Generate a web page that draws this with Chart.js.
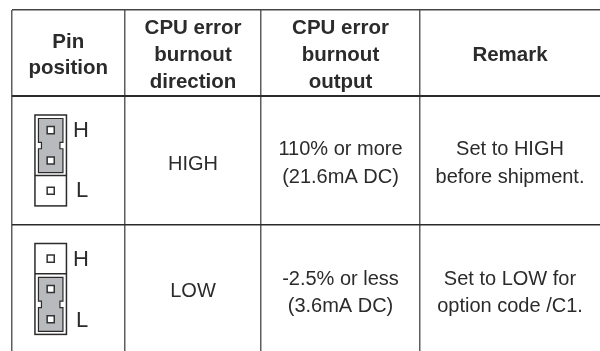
<!DOCTYPE html>
<html>
<head>
<meta charset="utf-8">
<title>CPU error burnout</title>
<script src="https://cdn.jsdelivr.net/npm/chart.js@4"></script>
<style>
    html, body { margin: 0; padding: 0; background: #fff; }
    canvas { display: block; }
</style>
</head>
<body>
<canvas id="chartTable" width="600" height="351"></canvas>
<script>
// table content
const headers = [
    ['Pin', 'position'],
    ['CPU error', 'burnout', 'direction'],
    ['CPU error', 'burnout', 'output'],
    ['Remark']
];
const pinNames = ['H', 'L'];
const shuntedPin = [0, 1];       // first pin covered by the jumper on each row
const directions = ['HIGH', 'LOW'];
const outputs = [['110% or more', '(21.6mA DC)'], ['-2.5% or less', '(3.6mA DC)']];
const remarks = [['Set to HIGH', 'before shipment.'], ['Set to LOW for', 'option code /C1.']];

// layout, in scale units (scales are 1:1 with the canvas)
const colEdges = [11.5, 125, 261, 420, 600];
const rowEdges = [10, 96, 224.5, 351];
const housingTop = [115, 243.5];
const pinX = 50.7;
const pitch = 30.3;
const housingW = 31.5;

const TEXT = '#2b2b2b';
const FONT = '"Liberation Sans", Arial, sans-serif';

function pinY(row, i) {
    return housingTop[row] + pitch * (i + 0.5);
}

const pinPoints = [];
housingTop.forEach(function(top, row) {
    [0, 1, 2].forEach(function(i) {
        pinPoints.push({ x: pinX, y: pinY(row, i) });
    });
});

function drawLines(ctx, lines, x, yMid, lineH) {
    lines.forEach(function(line, i) {
        ctx.fillText(line, x, yMid + (i - (lines.length - 1) / 2) * lineH);
    });
}

function drawJumper(ctx, sx, sy, row) {
    const l = sx.getPixelForValue(pinX - housingW / 2);
    const r = sx.getPixelForValue(pinX + housingW / 2);
    const t = sy.getPixelForValue(housingTop[row]);
    const b = sy.getPixelForValue(housingTop[row] + pitch * 3);

    ctx.strokeStyle = '#2b2b2b';
    ctx.lineWidth = 1.5;
    ctx.fillStyle = '#fff';
    ctx.fillRect(l, t, r - l, b - t);
    ctx.strokeRect(l, t, r - l, b - t);

    // the shunted two pins get a heavier box with the grey jumper inside
    const first = shuntedPin[row];
    const st = t + pitch * first;
    const sb = st + pitch * 2;
    ctx.beginPath();
    ctx.moveTo(l, first ? st : sb);
    ctx.lineTo(r, first ? st : sb);
    ctx.stroke();

    const jl = l + 3.5, jr = r - 3.5, jt = st + 3.5, jb = sb - 3;
    const mid = (jt + jb) / 2, n = 3.2, nw = 3;
    ctx.beginPath();
    ctx.moveTo(jl, jt);
    ctx.lineTo(jr, jt);
    ctx.lineTo(jr, mid - n);
    ctx.lineTo(jr - nw, mid - n);
    ctx.lineTo(jr - nw, mid + n);
    ctx.lineTo(jr, mid + n);
    ctx.lineTo(jr, jb);
    ctx.lineTo(jl, jb);
    ctx.lineTo(jl, mid + n);
    ctx.lineTo(jl + nw, mid + n);
    ctx.lineTo(jl + nw, mid - n);
    ctx.lineTo(jl, mid - n);
    ctx.closePath();
    ctx.fillStyle = '#b9babd';
    ctx.fill();
    ctx.lineWidth = 1.2;
    ctx.stroke();
}

const tablePlugin = {
    id: 'tablePlugin',
    beforeDatasetsDraw: function(chart) {
        const ctx = chart.ctx;
        const sx = chart.scales.x;
        const sy = chart.scales.y;
        ctx.save();
        housingTop.forEach(function(top, row) {
            drawJumper(ctx, sx, sy, row);
        });
        ctx.restore();
    },
    afterDatasetsDraw: function(chart) {
        const ctx = chart.ctx;
        const sx = chart.scales.x;
        const sy = chart.scales.y;
        const colMid = function(c) {
            return sx.getPixelForValue((colEdges[c] + colEdges[c + 1]) / 2);
        };

        ctx.save();
        ctx.fillStyle = TEXT;
        ctx.textAlign = 'center';
        ctx.textBaseline = 'middle';

        ctx.font = 'bold 20.5px ' + FONT;
        headers.forEach(function(lines, c) {
            drawLines(ctx, lines, colMid(c), sy.getPixelForValue(55.5), lines.length === 2 ? 26 : 27);
        });

        ctx.font = '20px ' + FONT;
        // last row is cut off by the page, its text sits above the geometric middle
        const wordY = [sy.getPixelForValue(164), sy.getPixelForValue(291)];
        const textY = [sy.getPixelForValue(163.5), sy.getPixelForValue(293)];
        directions.forEach(function(text, r) {
            ctx.fillText(text, colMid(1), wordY[r]);
        });
        outputs.forEach(function(lines, r) {
            drawLines(ctx, lines, colMid(2), textY[r], 27.5);
        });
        remarks.forEach(function(lines, r) {
            drawLines(ctx, lines, colMid(3), textY[r], 27.5);
        });

        ctx.font = '22px ' + FONT;
        ctx.textAlign = 'left';
        housingTop.forEach(function(top, row) {
            ctx.fillText(pinNames[0], sx.getPixelForValue(73), sy.getPixelForValue(pinY(row, 0)) + 1);
            ctx.fillText(pinNames[1], sx.getPixelForValue(76), sy.getPixelForValue(pinY(row, 2)) + (row ? 1.5 : 0));
        });
        ctx.restore();
    }
};

new Chart(document.getElementById('chartTable'), {
    type: 'scatter',
    data: {
        datasets: [{
            data: pinPoints,
            pointStyle: 'rect',
            pointRadius: 5,
            pointBorderWidth: 1.5,
            pointBackgroundColor: '#fff',
            pointBorderColor: '#333'
        }]
    },
    options: {
        responsive: false,
        animation: false,
        layout: { autoPadding: false, padding: { left: colEdges[0], top: rowEdges[0], right: 0, bottom: 0 } },
        plugins: { legend: { display: false }, tooltip: { enabled: false } },
        scales: {
            x: {
                type: 'linear',
                min: colEdges[0],
                max: colEdges[4],
                afterBuildTicks: function(scale) {
                    scale.ticks = colEdges.slice(0, 4).map(function(v) { return { value: v }; });
                },
                ticks: { display: false },
                border: { display: false },
                grid: { drawTicks: false, color: '#5e5e5e', lineWidth: 1.5 }
            },
            y: {
                type: 'linear',
                reverse: true,
                min: rowEdges[0],
                max: rowEdges[3],
                afterBuildTicks: function(scale) {
                    scale.ticks = rowEdges.slice(0, 3).map(function(v) { return { value: v }; });
                },
                ticks: { display: false },
                border: { display: false },
                grid: {
                    drawTicks: false,
                    color: function(c) { return c.index === 0 ? '#444' : '#2b2b2b'; },
                    lineWidth: function(c) { return c.index === 1 ? 2 : 1.5; }
                }
            }
        }
    },
    plugins: [tablePlugin]
});
</script>
</body>
</html>
